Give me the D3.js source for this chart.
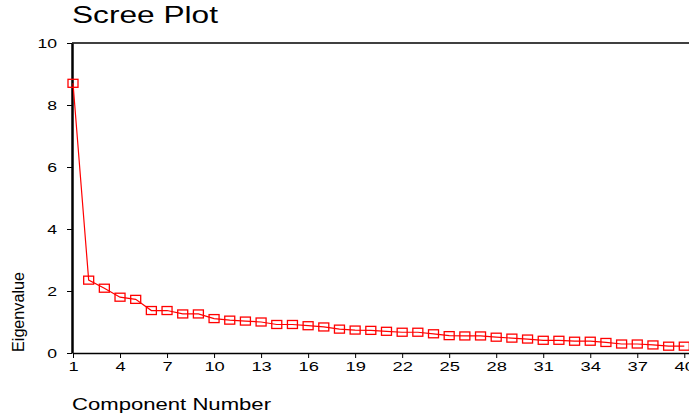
<!DOCTYPE html>
<html><head><meta charset="utf-8">
<script src="https://cdn.jsdelivr.net/npm/d3@7"></script>
<style>body{margin:0;background:#fff}svg{display:block}text{font-family:"Liberation Sans",Arial,sans-serif}</style>
</head><body>
<svg id="c" width="689" height="417"></svg>
<script>
const components = d3.range(1, 41);
const eigenvalues = [8.70,2.35,2.09,1.80,1.73,1.37,1.37,1.26,1.26,1.11,
  1.06,1.03,1.00,0.92,0.92,0.88,0.84,0.77,0.74,0.73,
  0.70,0.67,0.67,0.62,0.56,0.55,0.55,0.51,0.48,0.45,
  0.41,0.41,0.38,0.38,0.34,0.29,0.29,0.26,0.22,0.22];
const xTicks = [1,4,7,10,13,16,19,22,25,28,31,34,37,40];
const yTicks = [0,2,4,6,8,10];

const svg = d3.select("#c");
const x = d3.scaleLinear().domain([1, 40.3]).range([73, 689]);
const y = d3.scaleLinear().domain([0, 10]).range([353, 43]);

// top frame line
svg.append("line").attr("x1", 72).attr("x2", 689).attr("y1", y(10)).attr("y2", y(10))
  .attr("stroke", "#000").attr("stroke-width", 1.5);

// x axis
const xa = svg.append("g").attr("transform", `translate(0,${y(0)})`)
  .call(d3.axisBottom(x).tickValues(xTicks).tickSize(5).tickSizeOuter(0).tickPadding(4));
xa.select(".domain").attr("stroke-width", 1.5);
xa.selectAll("text").attr("font-size", 13).attr("fill", "#000")
  .attr("textLength", d => String(d).length * 10.2).attr("lengthAdjust", "spacingAndGlyphs")
  .style("font-family", "'Liberation Sans',Arial,sans-serif");

// y axis
const ya = svg.append("g").attr("transform", `translate(72,0)`)
  .call(d3.axisLeft(y).tickValues(yTicks).tickSize(5).tickSizeOuter(0).tickPadding(10));
ya.select(".domain").attr("stroke-width", 2.5);
ya.selectAll("text").attr("font-size", 13).attr("fill", "#000")
  .attr("textLength", d => String(d).length * 9.8).attr("lengthAdjust", "spacingAndGlyphs")
  .style("font-family", "'Liberation Sans',Arial,sans-serif");

// line
svg.append("path").datum(components)
  .attr("fill", "none").attr("stroke", "#ff0000").attr("stroke-width", 1.2)
  .attr("d", d3.line().x(d => x(d)).y((d, i) => y(eigenvalues[i])));

// markers
svg.selectAll("rect.m").data(components).join("rect").attr("class", "m")
  .attr("x", d => x(d) - 5).attr("y", (d, i) => y(eigenvalues[i]) - 4)
  .attr("width", 10).attr("height", 8)
  .attr("fill", "none").attr("stroke", "#ff0000").attr("stroke-width", 1.3);

// title
svg.append("text").attr("x", 72).attr("y", 23).attr("font-size", 24).attr("fill", "#000")
  .attr("textLength", 146).attr("lengthAdjust", "spacingAndGlyphs").text("Scree Plot");

// axis titles
svg.append("text").attr("x", 72).attr("y", 410).attr("font-size", 17).attr("fill", "#000")
  .attr("textLength", 199).attr("lengthAdjust", "spacingAndGlyphs").text("Component Number");
svg.append("text").attr("transform", "translate(23.5,352) rotate(-90)").attr("font-size", 16)
  .attr("fill", "#000").attr("textLength", 80).attr("lengthAdjust", "spacingAndGlyphs").text("Eigenvalue");
</script>
</body></html>
